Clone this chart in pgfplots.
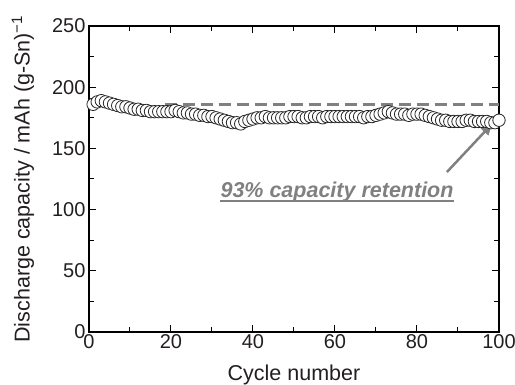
\documentclass[border=0pt]{standalone}
\usepackage{pgfplots}
\pgfplotsset{compat=1.18}
\usepackage{fontspec}
\setmainfont{Liberation Sans}
\usetikzlibrary{arrows.meta}
\definecolor{anngray}{HTML}{808080}
\definecolor{txt}{HTML}{231F20}
\begin{document}
\begin{tikzpicture}
\begin{axis}[
  scale only axis, width=410pt, height=306pt,
  xmin=0, xmax=100, ymin=0, ymax=250,
  xtick={0,20,...,100}, ytick={0,50,...,250},
  minor x tick num=1, minor y tick num=1,
  tick align=inside, major tick length=7pt, minor tick length=5pt,
  axis line style={line width=2.5pt, line cap=rect},
  tick style={line width=1pt, color=black},
  ticklabel style={font=\fontsize{20}{20}\selectfont, text=txt},
  xticklabel style={yshift=1pt},
  /pgf/number format/assume math mode=true,
  xlabel={Cycle number},
  ylabel={Discharge capacity / mAh (g-Sn)\textsuperscript{−1}},
  label style={font=\fontsize{21.5}{21.5}\selectfont, text=txt},
  xlabel style={at={(axis description cs:0.5,-0.1405)}, anchor=center},
  ylabel style={at={(axis description cs:-0.161,0.5)}, anchor=center},
  clip=false,
]
\addplot[anngray, line width=3pt, dash pattern=on 12pt off 6pt, forget plot] coordinates {(18.5,186) (100,186)};
\addplot[only marks, mark=*, mark size=6.2pt, mark options={fill=white, draw=black!85, line width=0.8pt}] table {
x y
1 186
2 188
3 189
4 188
5 187
6 186
7 185
8 184
9 184
10 183
11 182
12 182
13 181
14 181
15 180
16 180
17 180
18 180
19 180
20 180
21 181
22 180
23 179
24 179
25 178
26 178
27 177
28 177
29 176
30 176
31 175
32 174
33 173
34 172
35 171
36 171
37 170
38 172
39 173
40 174
41 175
42 175
43 176
44 175
45 175
46 175
47 175
48 175
49 176
50 176
51 176
52 175
53 175
54 176
55 176
56 176
57 175
58 176
59 176
60 176
61 176
62 176
63 176
64 176
65 176
66 176
67 175
68 176
69 176
70 177
71 178
72 179
73 180
74 179
75 178
76 178
77 178
78 177
79 178
80 178
81 178
82 177
83 176
84 175
85 174
86 173
87 173
88 172
89 172
90 172
91 172
92 173
93 173
94 172
95 172
96 172
97 172
98 171
99 171
100 173
};
\node[font=\fontsize{21.5}{21.5}\selectfont\bfseries\itshape, text=anngray, inner sep=0pt, anchor=base] (ann) at (axis cs:60.5,110) {93\% capacity retention};
\draw[anngray, line width=2pt] ([yshift=-4pt]ann.base west) -- ([yshift=-4pt]ann.base east);
\draw[anngray, line width=2.5pt, -{Triangle[length=11pt,width=10pt]}] (axis cs:87.3,130.7) -- (axis cs:98.3,170);
\end{axis}
\pgfresetboundingbox
\path ([shift={(-89pt,-53pt)}]current axis.south west) rectangle ([shift={(16pt,26pt)}]current axis.north east);
\end{tikzpicture}
\end{document}
